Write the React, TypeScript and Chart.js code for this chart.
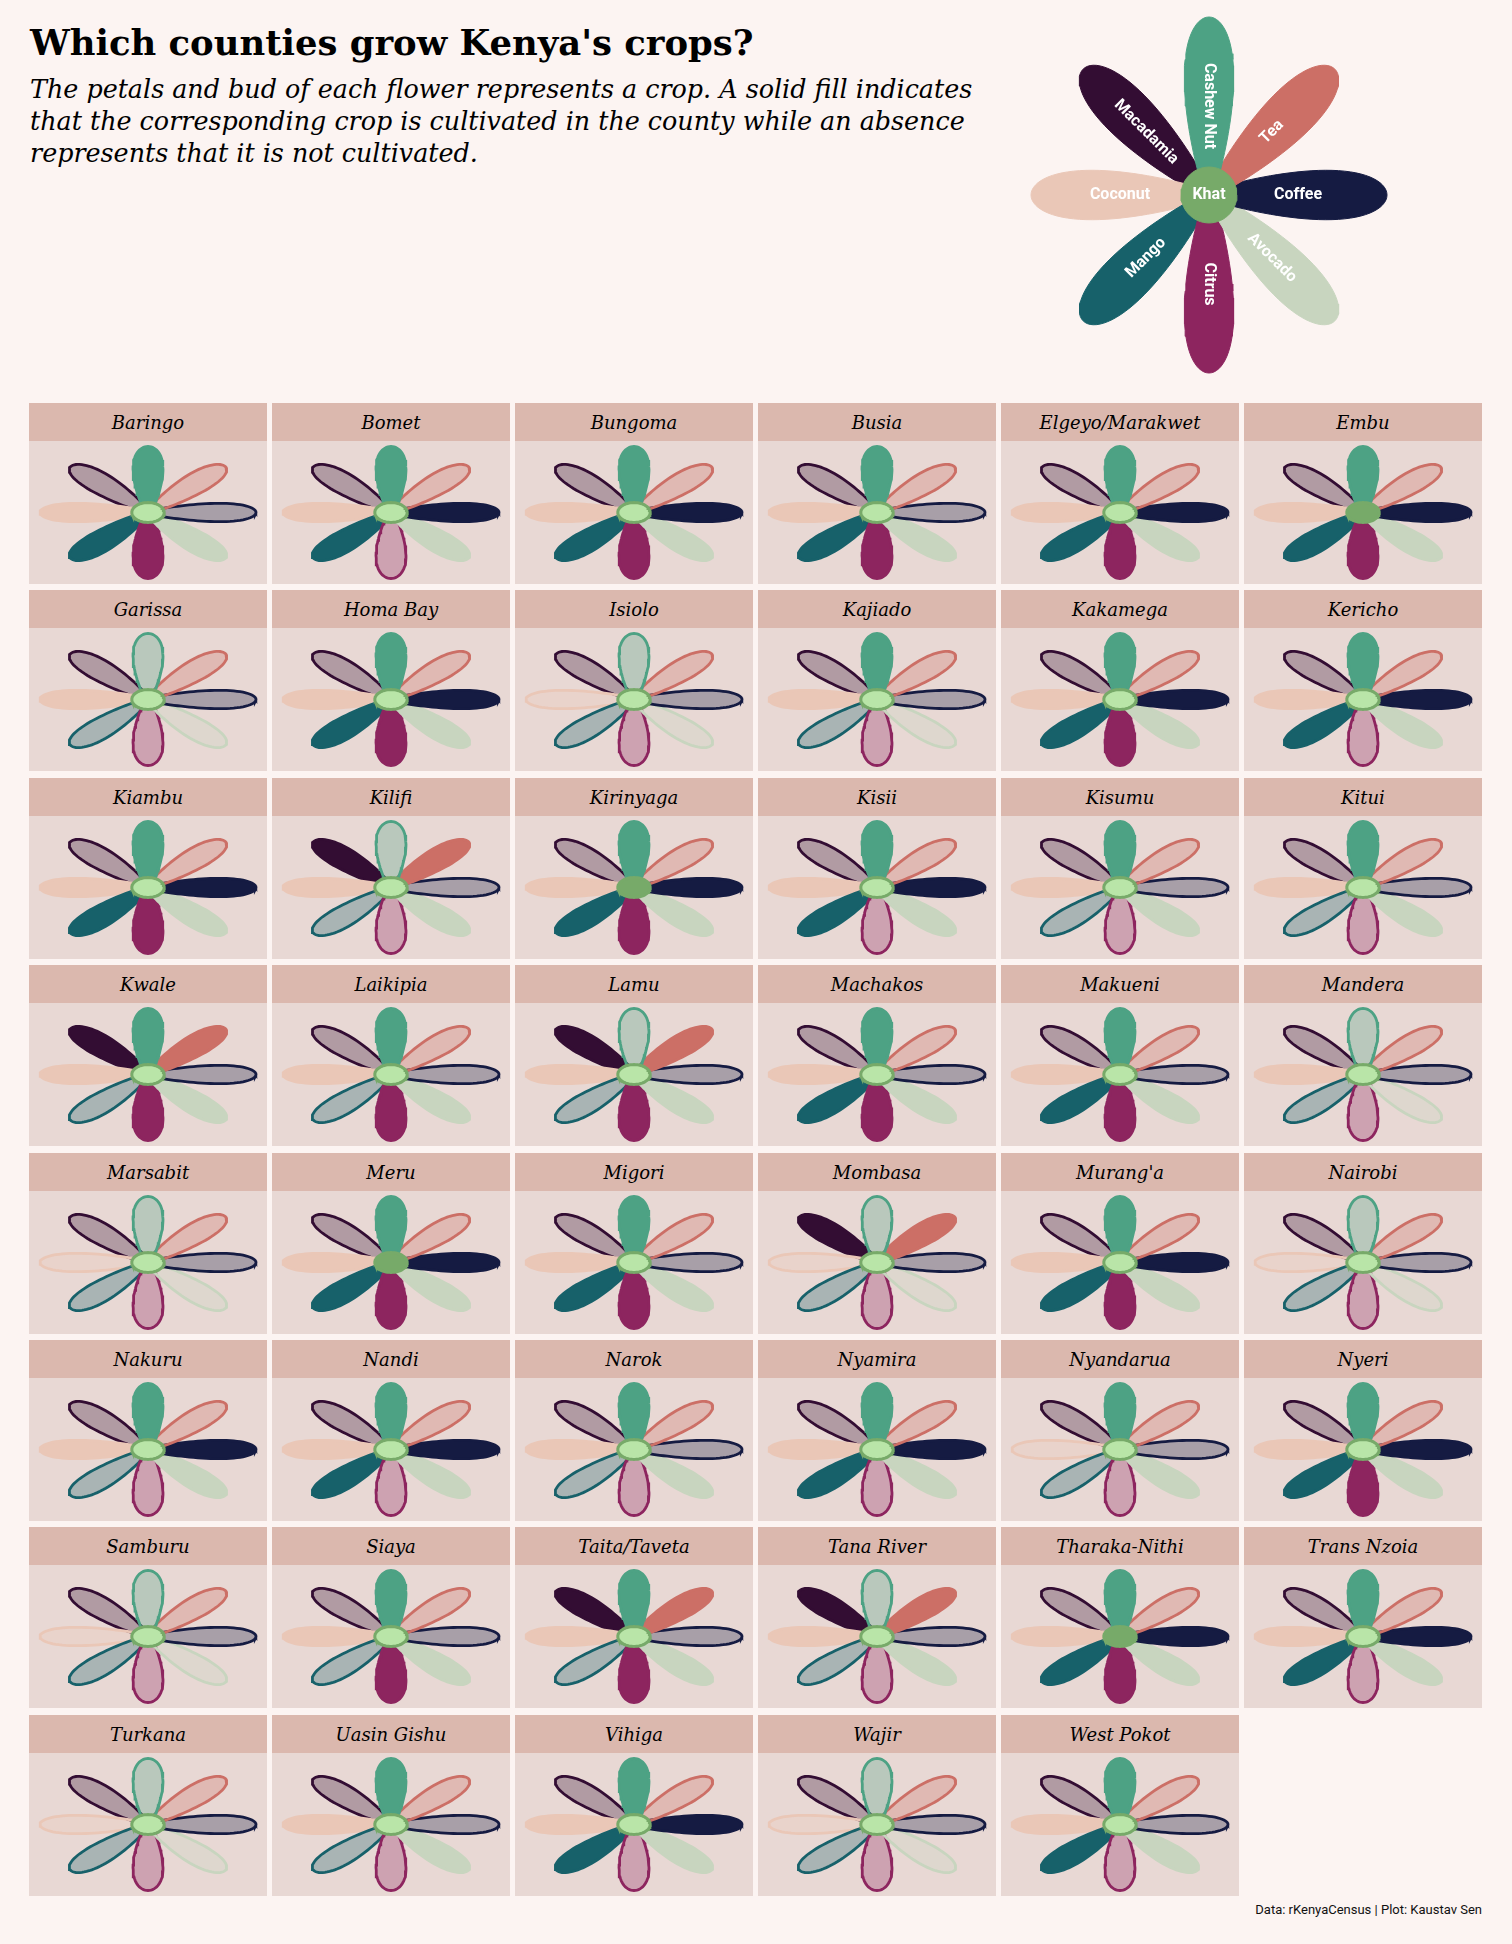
import React, { useEffect, useRef } from "react";
import { Chart, registerables } from "chart.js";

Chart.register(...registerables);

// ---------------- DATA ----------------
const COUNTIES = [
  "Baringo", "Bomet", "Bungoma", "Busia", "Elgeyo/Marakwet", "Embu",
  "Garissa", "Homa Bay", "Isiolo", "Kajiado", "Kakamega", "Kericho",
  "Kiambu", "Kilifi", "Kirinyaga", "Kisii", "Kisumu", "Kitui",
  "Kwale", "Laikipia", "Lamu", "Machakos", "Makueni", "Mandera",
  "Marsabit", "Meru", "Migori", "Mombasa", "Murang'a", "Nairobi",
  "Nakuru", "Nandi", "Narok", "Nyamira", "Nyandarua", "Nyeri",
  "Samburu", "Siaya", "Taita/Taveta", "Tana River", "Tharaka-Nithi", "Trans Nzoia",
  "Turkana", "Uasin Gishu", "Vihiga", "Wajir", "West Pokot",
];

// 1 = cultivated (solid fill), 0 = not cultivated
const CASHEW_NUT = [1,1,1,1,1,1, 0,1,0,1,1,1, 1,0,1,1,1,1, 1,1,0,1,1,0, 0,1,1,0,1,0, 1,1,1,1,1,1, 0,1,1,0,1,1, 0,1,1,0,1];
const TEA        = [0,0,0,0,0,0, 0,0,0,0,0,0, 0,1,0,0,0,0, 1,0,1,0,0,0, 0,0,0,1,0,0, 0,0,0,0,0,0, 0,0,1,1,0,0, 0,0,0,0,0];
const COFFEE     = [0,1,1,0,1,1, 0,1,0,0,1,1, 1,0,1,1,0,0, 0,0,0,0,0,0, 0,1,0,0,1,0, 1,1,0,1,0,1, 0,0,0,0,1,1, 0,0,1,0,0];
const AVOCADO    = [1,1,1,1,1,1, 0,1,0,0,1,1, 1,1,1,1,1,1, 1,1,1,1,1,0, 0,1,1,0,1,0, 1,1,1,1,1,1, 0,1,1,1,1,1, 0,1,1,0,1];
const CITRUS     = [1,0,1,1,1,1, 0,1,0,0,1,0, 1,0,1,0,0,0, 1,1,1,1,1,0, 0,1,1,0,1,0, 0,0,0,0,0,1, 0,1,1,0,1,0, 0,0,0,0,0];
const MANGO      = [1,1,1,1,1,1, 0,1,0,0,1,1, 1,0,1,1,0,0, 0,0,0,1,1,0, 0,1,1,0,1,0, 0,1,0,1,0,1, 0,0,0,0,1,1, 0,0,1,0,1];
const COCONUT    = [1,1,1,1,1,1, 1,1,0,1,1,1, 1,1,1,1,1,1, 1,1,1,1,1,1, 0,1,1,0,1,0, 1,1,1,1,0,1, 0,1,1,1,1,1, 0,1,1,0,1];
const MACADAMIA  = [0,0,0,0,0,0, 0,0,0,0,0,0, 0,1,0,0,0,0, 1,0,1,0,0,0, 0,0,0,1,0,0, 0,0,0,0,0,0, 0,0,1,1,0,0, 0,0,0,0,0];
const KHAT       = [0,0,0,0,0,1, 0,0,0,0,0,0, 0,0,1,0,0,0, 0,0,0,0,0,0, 0,1,0,0,0,0, 0,0,0,0,0,0, 0,0,0,0,1,0, 0,0,0,0,0];

const CROPS = ["Cashew Nut", "Tea", "Coffee", "Avocado", "Citrus", "Mango", "Coconut", "Macadamia"];
const CROP_SERIES = [CASHEW_NUT, TEA, COFFEE, AVOCADO, CITRUS, MANGO, COCONUT, MACADAMIA];
const PETAL_ANGLES = [90, 45, 0, -45, -90, -135, 180, 135];

// ---------------- STYLE ----------------
const PETAL_COLORS = ["#4DA284", "#CC6F66", "#151B42", "#C8D5BF", "#8D255F", "#17616A", "#EAC7B7", "#330D33"];
const KHAT_COLOR = "#77AA69";
const KHAT_LIGHT = "#B9E5A8";
const LABEL_ROT = [90, -45, 0, 45, 90, -45, 0, 45];
const PAGE_BG = "#FCF4F2";
const PANEL_BG = "#E8D8D4";
const HEADER_BG = "#DBB8AE";

const PETAL_HALF_WIDTH = 0.13;
const ASYM = 0.4;

function rgba(hex: string, a: number) {
  const r = parseInt(hex.slice(1, 3), 16);
  const g = parseInt(hex.slice(3, 5), 16);
  const b = parseInt(hex.slice(5, 7), 16);
  return `rgba(${r},${g},${b},${a})`;
}

function petalPoints(angleDeg: number) {
  const a = (angleDeg * Math.PI) / 180;
  const dx = Math.cos(a), dy = Math.sin(a);
  const px = -dy, py = dx;
  const pts: { x: number; y: number }[] = [];
  const N = 80;
  for (let k = 0; k <= N; k++) {
    const t = (2 * Math.PI * k) / N;
    const s = -Math.cos(t);
    const u = (1 + s) / 2;
    const h = PETAL_HALF_WIDTH * Math.sin(t) * (1 + ASYM * s);
    pts.push({ x: u * dx + h * px, y: u * dy + h * py });
  }
  return pts;
}

function budPoints(r: number) {
  const pts: { x: number; y: number }[] = [];
  const N = 60;
  for (let k = 0; k <= N; k++) {
    const t = (2 * Math.PI * k) / N;
    pts.push({ x: r * Math.cos(t), y: r * Math.sin(t) });
  }
  return pts;
}

const labelPlugin = {
  id: "petalLabels",
  afterDatasetsDraw(chart: any) {
    const { ctx } = chart;
    const xs = chart.scales.x, ys = chart.scales.y;
    ctx.save();
    ctx.fillStyle = "#FFFFFF";
    ctx.textAlign = "center";
    ctx.textBaseline = "middle";
    ctx.font = "bold 16px Roboto";
    CROPS.forEach((name, i) => {
      const a = (PETAL_ANGLES[i] * Math.PI) / 180;
      const px = xs.getPixelForValue(0.5 * Math.cos(a));
      const py = ys.getPixelForValue(0.5 * Math.sin(a));
      ctx.save();
      ctx.translate(px, py);
      ctx.rotate((LABEL_ROT[i] * Math.PI) / 180);
      ctx.fillText(name, 0, 0);
      ctx.restore();
    });
    ctx.fillText("Khat", xs.getPixelForValue(0), ys.getPixelForValue(0));
    ctx.restore();
  },
};

function Flower(props: {
  values: number[]; bud: number; legend?: boolean;
  left: number; top: number; width: number; height: number; unitX: number; unitY: number;
}) {
  const { values, bud, legend, left, top, width, height, unitX, unitY } = props;
  const ref = useRef<HTMLCanvasElement>(null);
  useEffect(() => {
    const lw = legend ? 1 : 2.8;
    const datasets: any[] = [];
    datasets.push({
      label: "Khat",
      data: budPoints(legend ? 0.157 : 0.15),
      borderColor: KHAT_COLOR,
      backgroundColor: bud ? KHAT_COLOR : KHAT_LIGHT,
      borderWidth: legend ? 1 : 3,
      fill: "shape",
      pointRadius: 0,
      tension: 0,
    });
    CROPS.forEach((name, i) => {
      const col = PETAL_COLORS[i];
      datasets.push({
        label: name,
        data: petalPoints(PETAL_ANGLES[i]),
        borderColor: col,
        backgroundColor: values[i] ? col : rgba(col, 0.3),
        borderWidth: lw,
        fill: "shape",
        pointRadius: 0,
        tension: 0,
      });
    });
    const xr = width / 2 / unitX;
    const yr = height / 2 / unitY;
    const chart = new Chart(ref.current as HTMLCanvasElement, {
      type: "line",
      data: { datasets },
      options: {
        responsive: false,
        animation: false,
        devicePixelRatio: 1,
        layout: { padding: 0 },
        events: [],
        scales: {
          x: { type: "linear", min: -xr, max: xr, display: false },
          y: { type: "linear", min: -yr, max: yr, display: false },
        },
        plugins: { legend: { display: false }, tooltip: { enabled: false } },
      },
      plugins: legend ? [labelPlugin] : [],
    } as any);
    return () => chart.destroy();
  }, []);
  return (
    <canvas
      ref={ref}
      width={width}
      height={height}
      style={{ position: "absolute", left, top, width, height }}
    />
  );
}

export default function App() {
  const colX = (c: number) => 29 + 243 * c;
  const rowY = (r: number) => Math.round(403 + 187.4 * r);
  return (
    <div
      style={{
        position: "absolute", left: 0, top: 0, width: 1512, height: 1944,
        background: PAGE_BG, overflow: "hidden",
      }}
    >
      <div
        style={{
          position: "absolute", left: 30, top: 25, font: "bold 35.4px 'DejaVu Serif'",
          lineHeight: "35px", whiteSpace: "nowrap", color: "#000",
        }}
      >
        Which counties grow Kenya's crops?
      </div>
      <div
        style={{
          position: "absolute", left: 30, top: 73, font: "italic 25.4px 'DejaVu Serif'",
          lineHeight: "32px", whiteSpace: "nowrap", color: "#000",
        }}
      >
        The petals and bud of each flower represents a crop. A solid fill indicates
        <br />
        that the corresponding crop is cultivated in the county while an absence
        <br />
        represents that it is not cultivated.
      </div>

      <Flower
        values={[1, 1, 1, 1, 1, 1, 1, 1]}
        bud={1}
        legend
        left={1014}
        top={0}
        width={390}
        height={390}
        unitX={178}
        unitY={178}
      />

      {COUNTIES.map((name, i) => {
        const c = i % 6, r = Math.floor(i / 6);
        const x = colX(c), y = rowY(r);
        return (
          <React.Fragment key={name}>
            <div style={{ position: "absolute", left: x, top: y, width: 238, height: 181, background: PANEL_BG }} />
            <div
              style={{
                position: "absolute", left: x, top: y, width: 238, height: 38, background: HEADER_BG,
                display: "flex", alignItems: "center", justifyContent: "center",
                font: "italic 18px 'DejaVu Serif'", color: "#000",
              }}
            >
              {name}
            </div>
            <Flower
              values={CROP_SERIES.map((s) => s[i])}
              bud={KHAT[i]}
              left={x}
              top={y + 38}
              width={238}
              height={143}
              unitX={108}
              unitY={66}
            />
          </React.Fragment>
        );
      })}

      <div
        style={{
          position: "absolute", right: 30, top: 1903, font: "13px Roboto",
          lineHeight: "13px", color: "#111", whiteSpace: "nowrap",
        }}
      >
        Data: rKenyaCensus | Plot: Kaustav Sen
      </div>
    </div>
  );
}
